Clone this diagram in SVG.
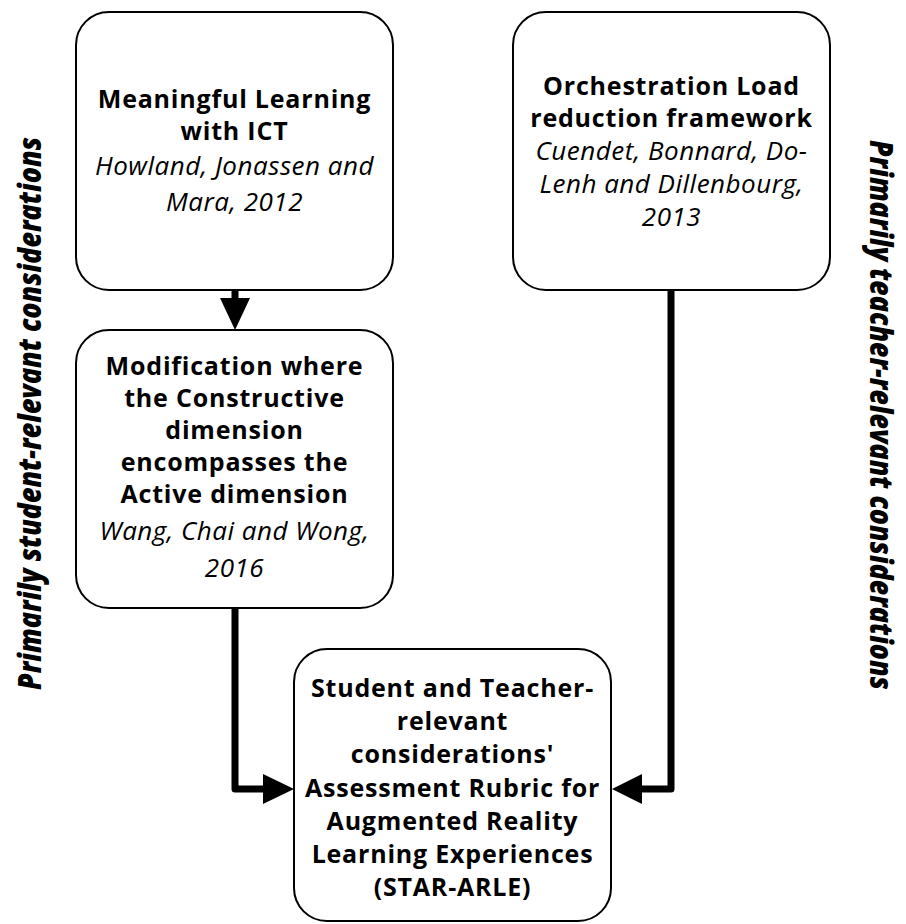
<svg xmlns="http://www.w3.org/2000/svg" width="906" height="924" viewBox="0 0 906 924">
<defs>
<style>
.box{fill:#fff;stroke:#000;stroke-width:2}
.b{font-family:"Open Sans","Noto Sans","Liberation Sans",sans-serif;font-weight:bold;font-size:25px;letter-spacing:0.8px;text-anchor:middle;fill:#000}
.i{font-family:"Open Sans","Noto Sans","Liberation Sans",sans-serif;font-style:italic;font-size:26px;letter-spacing:0.5px;text-anchor:middle;fill:#000}
.side{font-family:"Open Sans","Noto Sans","Liberation Sans",sans-serif;font-weight:800;font-style:italic;font-size:31px;text-anchor:middle;fill:#000}
.conn{fill:none;stroke:#000;stroke-width:7;stroke-linejoin:round}
</style>
</defs>
<rect width="906" height="924" fill="#fff"/>
<g id="connectors">
<path class="conn" d="M235,290 V300"/>
<polygon points="220,298 250,298 235,330"/>
<path class="conn" d="M235,608 V789 H265"/>
<polygon points="263,774 263,804 294,789"/>
<path class="conn" d="M671,290 V789 H640"/>
<polygon points="642,774 642,804 612,789"/>
</g>
<g id="node-meaningful">
<rect class="box" x="76" y="12" width="317" height="278" rx="33"/>
<text class="b" x="234.5" y="108">Meaningful Learning</text>
<text class="b" x="234.5" y="140">with ICT</text>
<text class="i" x="234.5" y="175">Howland, Jonassen and</text>
<text class="i" x="234.5" y="211">Mara, 2012</text>
</g>
<g id="node-modification">
<rect class="box" x="76" y="330" width="317" height="278" rx="33"/>
<text class="b" x="234.5" y="375">Modification where</text>
<text class="b" x="234.5" y="407">the Constructive</text>
<text class="b" x="234.5" y="439">dimension</text>
<text class="b" x="234.5" y="471">encompasses the</text>
<text class="b" x="234.5" y="503">Active dimension</text>
<text class="i" x="234.5" y="540">Wang, Chai and Wong,</text>
<text class="i" x="234.5" y="577">2016</text>
</g>
<g id="node-orchestration">
<rect class="box" x="513" y="12" width="317" height="278" rx="33"/>
<text class="b" x="671.5" y="95">Orchestration Load</text>
<text class="b" x="671.5" y="127">reduction framework</text>
<text class="i" x="671.5" y="160">Cuendet, Bonnard, Do-</text>
<text class="i" x="671.5" y="193">Lenh and Dillenbourg,</text>
<text class="i" x="671.5" y="226">2013</text>
</g>
<g id="node-star-arle">
<rect class="box" x="294" y="649" width="317" height="272" rx="33"/>
<text class="b" x="452.5" y="697">Student and Teacher-</text>
<text class="b" x="452.5" y="730">relevant</text>
<text class="b" x="452.5" y="763">considerations'</text>
<text class="b" x="452.5" y="797">Assessment Rubric for</text>
<text class="b" x="452.5" y="830">Augmented Reality</text>
<text class="b" x="452.5" y="863">Learning Experiences</text>
<text class="b" x="452.5" y="896">(STAR-ARLE)</text>
</g>
<g id="side-labels">
<text class="side" transform="translate(41,413.5) rotate(-90)" textLength="553" lengthAdjust="spacingAndGlyphs">Primarily student-relevant considerations</text>
<text class="side" transform="translate(870,415) rotate(90)" textLength="550" lengthAdjust="spacingAndGlyphs">Primarily teacher-relevant considerations</text>
</g>
</svg>
